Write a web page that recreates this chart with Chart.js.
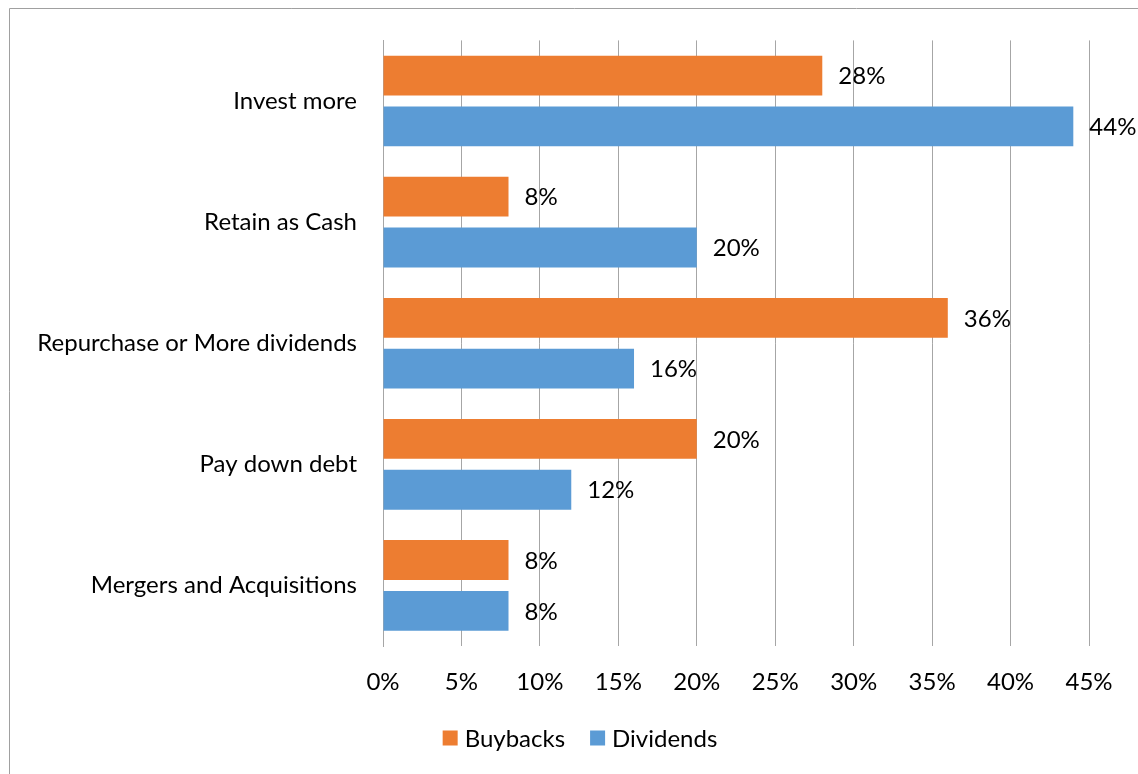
<!DOCTYPE html>
<html>
<head>
<meta charset="utf-8">
<script src="https://cdn.jsdelivr.net/npm/chart.js@4/dist/chart.umd.min.js"></script>
<style>
  html, body { margin: 0; padding: 0; background: #ffffff; }
  #wrap { width: 1138px; height: 774px; position: relative; }
</style>
</head>
<body>
<div id="wrap"><canvas id="c" width="1138" height="774"></canvas></div>
<script>
const categories = ['Invest more', 'Retain as Cash', 'Repurchase or More dividends', 'Pay down debt', 'Mergers and Acquisitions'];
const buybacks = [28, 8, 36, 20, 8];
const dividends = [44, 20, 16, 12, 8];
const xTickLabels = ['0%', '5%', '10%', '15%', '20%', '25%', '30%', '35%', '40%', '45%'];

const FONT = 'Lato';
const FS = 24;

const frame = {
  id: 'frame',
  beforeDraw(chart) {
    const ctx = chart.ctx;
    ctx.save();
    ctx.fillStyle = '#ffffff';
    ctx.fillRect(0, 0, chart.width, chart.height);
    ctx.strokeStyle = '#a0a0a0';
    ctx.lineWidth = 1;
    ctx.beginPath();
    ctx.moveTo(9.5, chart.height + 2);
    ctx.lineTo(9.5, 8.5);
    ctx.lineTo(chart.width + 2, 8.5);
    ctx.stroke();
    ctx.restore();
  }
};

const valueLabels = {
  id: 'valueLabels',
  afterDatasetsDraw(chart) {
    const ctx = chart.ctx;
    ctx.save();
    ctx.font = FS + 'px ' + FONT;
    ctx.fillStyle = '#000000';
    ctx.textAlign = 'left';
    ctx.textBaseline = 'middle';
    chart.data.datasets.forEach((ds, i) => {
      const meta = chart.getDatasetMeta(i);
      meta.data.forEach((el, j) => {
        ctx.fillText(ds.data[j] + '%', el.x + 16, el.y + 1);
      });
    });
    ctx.restore();
  }
};

const bottomLegend = {
  id: 'bottomLegend',
  afterDraw(chart) {
    const ctx = chart.ctx;
    ctx.save();
    ctx.font = FS + 'px ' + FONT;
    ctx.textAlign = 'left';
    ctx.textBaseline = 'middle';
    const box = 15, gapText = 7, gapItem = 25, cy = 738, centerX = 580;
    const items = chart.data.datasets.map(ds => ({ label: ds.label, color: ds.backgroundColor, w: ctx.measureText(ds.label).width }));
    let total = 0;
    items.forEach((it, i) => { total += box + gapText + it.w + (i ? gapItem : 0); });
    let x = centerX - total / 2;
    items.forEach(it => {
      ctx.fillStyle = it.color;
      ctx.fillRect(x, cy - box / 2, box, box);
      ctx.fillStyle = '#000000';
      ctx.fillText(it.label, x + box + gapText, cy + 1);
      x += box + gapText + it.w + gapItem;
    });
    ctx.restore();
  }
};

new Chart(document.getElementById('c'), {
  type: 'bar',
  data: {
    labels: categories,
    datasets: [
      { label: 'Buybacks', data: buybacks, backgroundColor: '#ED7D31', borderWidth: 0,
        categoryPercentage: 0.839, barPercentage: 0.784 },
      { label: 'Dividends', data: dividends, backgroundColor: '#5B9BD5', borderWidth: 0,
        categoryPercentage: 0.839, barPercentage: 0.784 }
    ]
  },
  options: {
    indexAxis: 'y',
    responsive: false,
    animation: false,
    devicePixelRatio: 1,
    layout: { padding: { left: 10, right: 49, top: 37, bottom: 68 } },
    plugins: {
      legend: { display: false },
      tooltip: { enabled: false }
    },
    scales: {
      x: {
        min: 0,
        max: 45,
        ticks: {
          stepSize: 5,
          font: { family: FONT, size: FS },
          color: '#000000',
          padding: 22,
          maxRotation: 0,
          callback: (v, idx) => xTickLabels[idx]
        },
        grid: { color: '#a6a6a6', lineWidth: 1, drawTicks: false },
        border: { display: false },
        afterFit(scale) { scale.height = 60; }
      },
      y: {
        ticks: {
          font: { family: FONT, size: FS },
          color: '#000000',
          padding: 26
        },
        grid: { display: false, drawTicks: false },
        border: { display: true, color: '#a6a6a6', width: 1 },
        afterFit(scale) { scale.width = 373; }
      }
    }
  },
  plugins: [frame, valueLabels, bottomLegend]
});
</script>
</body>
</html>
